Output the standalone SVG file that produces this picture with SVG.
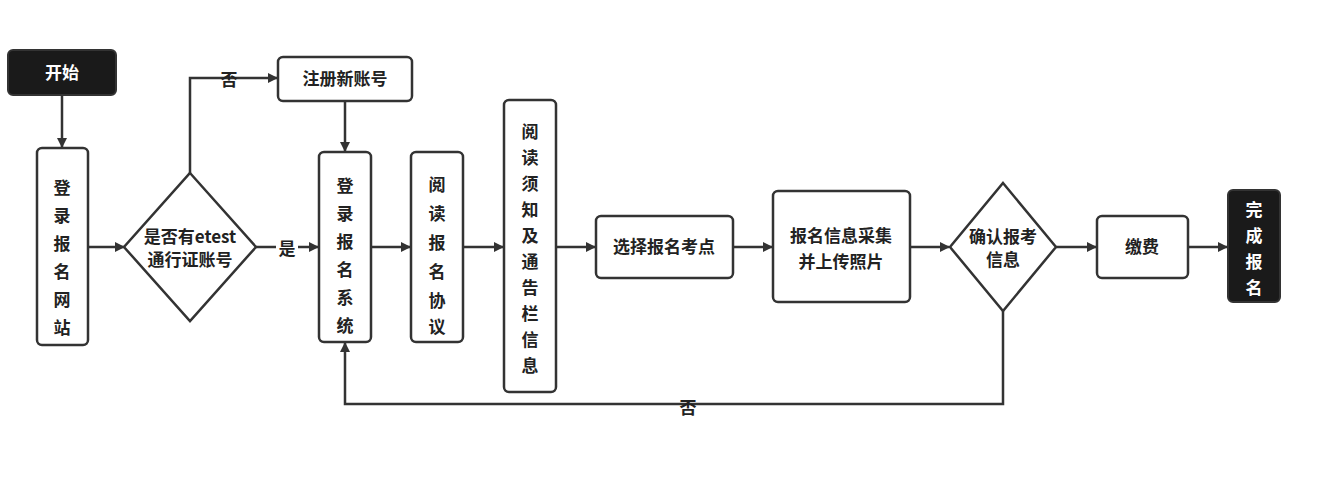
<svg xmlns="http://www.w3.org/2000/svg" width="1325" height="502" viewBox="0 0 1325 502">
<style>
.b{fill:#fff;stroke:#333;stroke-width:2.5}
.k{fill:#1a1a1a;stroke:#333;stroke-width:2}
.t{font-family:"Noto Sans CJK SC","Liberation Sans",sans-serif;font-size:17px;font-weight:bold;fill:#222;text-anchor:middle}
.w{fill:#fff}
.c{fill:none;stroke:#333;stroke-width:2.5}
</style>
<defs><marker id="a" markerWidth="10" markerHeight="10" refX="9" refY="5" orient="auto" markerUnits="userSpaceOnUse"><path d="M0,0 L10,5 L0,10 z" fill="#333"/></marker></defs>
<rect width="1325" height="502" fill="#fff"/>
<g id="connectors">
<path class="c" d="M62,95 V147" marker-end="url(#a)"/>
<path class="c" d="M88,247 H124" marker-end="url(#a)"/>
<path class="c" d="M190,173 V78 H277" marker-end="url(#a)"/>
<text class="t" x="229" y="86">否</text>
<path class="c" d="M345,101 V151" marker-end="url(#a)"/>
<path class="c" d="M256,247 H318" marker-end="url(#a)"/>
<rect x="276" y="238" width="22" height="20" fill="#fff"/>
<text class="t" x="287" y="255">是</text>
<path class="c" d="M371,247 H410" marker-end="url(#a)"/>
<path class="c" d="M463,247 H503" marker-end="url(#a)"/>
<path class="c" d="M556,247 H595" marker-end="url(#a)"/>
<path class="c" d="M733,247 H772" marker-end="url(#a)"/>
<path class="c" d="M910,247 H949" marker-end="url(#a)"/>
<path class="c" d="M1056,247 H1096" marker-end="url(#a)"/>
<path class="c" d="M1188,247 H1227" marker-end="url(#a)"/>
<path class="c" d="M1003,311 V404 H345 V343" marker-end="url(#a)"/>
<text class="t" x="688" y="414">否</text>
</g>
<g id="start"><rect class="k" x="8" y="50" width="108" height="45" rx="5"/><text class="t w" x="62" y="79">开始</text></g>
<g id="login-site"><rect class="b" x="37" y="148" width="51" height="197" rx="5"/><text class="t" x="62" y="194">登</text><text class="t" x="62" y="222">录</text><text class="t" x="62" y="250">报</text><text class="t" x="62" y="278">名</text><text class="t" x="62" y="306">网</text><text class="t" x="62" y="334">站</text></g>
<g id="has-account"><path class="b" d="M190,173 L256,247 L190,321 L124,247 Z"/><text class="t" x="190" y="243">是否有etest</text><text class="t" x="190" y="266">通行证账号</text></g>
<g id="register"><rect class="b" x="278" y="57" width="134" height="44" rx="5"/><text class="t" x="345" y="85">注册新账号</text></g>
<g id="login-sys"><rect class="b" x="319" y="152" width="52" height="190" rx="5"/><text class="t" x="345" y="192">登</text><text class="t" x="345" y="220">录</text><text class="t" x="345" y="248">报</text><text class="t" x="345" y="276">名</text><text class="t" x="345" y="304">系</text><text class="t" x="345" y="332">统</text></g>
<g id="agreement"><rect class="b" x="411" y="152" width="52" height="190" rx="5"/><text class="t" x="437" y="191">阅</text><text class="t" x="437" y="220">读</text><text class="t" x="437" y="249">报</text><text class="t" x="437" y="278">名</text><text class="t" x="437" y="307">协</text><text class="t" x="437" y="333">议</text></g>
<g id="notice"><rect class="b" x="504" y="100" width="52" height="292" rx="5"/><text class="t" x="530" y="138">阅</text><text class="t" x="530" y="164">读</text><text class="t" x="530" y="190">须</text><text class="t" x="530" y="216">知</text><text class="t" x="530" y="242">及</text><text class="t" x="530" y="268">通</text><text class="t" x="530" y="294">告</text><text class="t" x="530" y="320">栏</text><text class="t" x="530" y="346">信</text><text class="t" x="530" y="372">息</text></g>
<g id="choose-site"><rect class="b" x="596" y="216" width="137" height="62" rx="5"/><text class="t" x="664" y="253">选择报名考点</text></g>
<g id="collect"><rect class="b" x="773" y="191" width="137" height="111" rx="5"/><text class="t" x="841" y="242">报名信息采集</text><text class="t" x="841" y="268">并上传照片</text></g>
<g id="confirm"><path class="b" d="M1003,183 L1056,247 L1003,311 L950,247 Z"/><text class="t" x="1003" y="243">确认报考</text><text class="t" x="1003" y="266">信息</text></g>
<g id="pay"><rect class="b" x="1097" y="216" width="91" height="62" rx="5"/><text class="t" x="1142" y="253">缴费</text></g>
<g id="done"><rect class="k" x="1228" y="190" width="52" height="112" rx="5"/><text class="t w" x="1254" y="216">完</text><text class="t w" x="1254" y="242">成</text><text class="t w" x="1254" y="268">报</text><text class="t w" x="1254" y="294">名</text></g>
</svg>
